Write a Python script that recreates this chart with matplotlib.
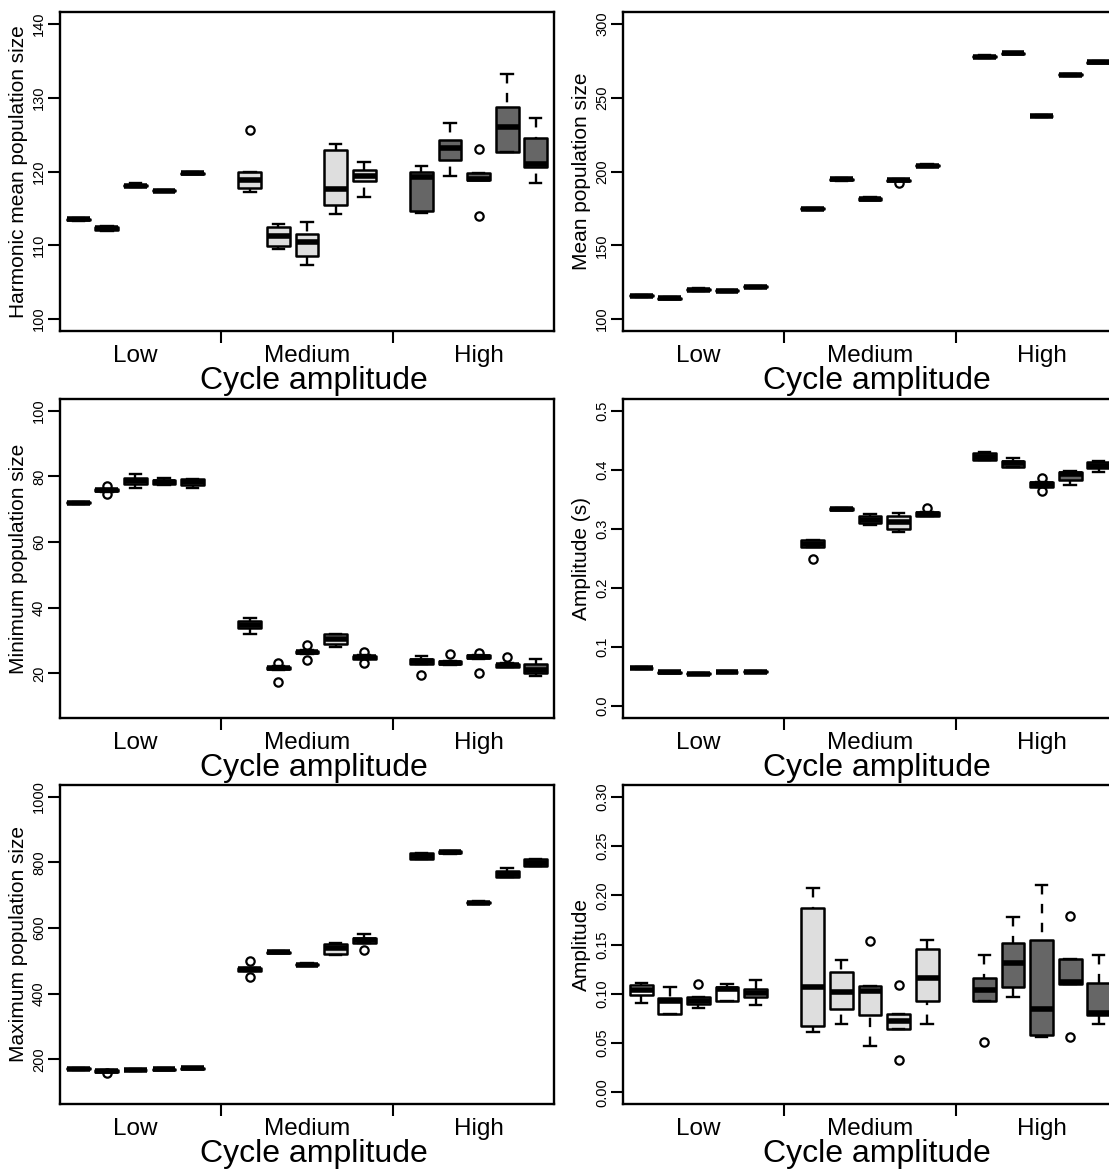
import matplotlib
matplotlib.use("Agg")
import matplotlib.pyplot as plt

plt.rcParams['font.family'] = ['Liberation Sans', 'DejaVu Sans']

# 15 boxes per panel: 5 Low, 5 Medium, 5 High
# each row: (whisker low, q1, median, q3, whisker high)
group_names = ['Low', 'Medium', 'High']

harm_box = [
    (113.3, 113.4, 113.5, 113.6, 113.7), (112.0, 112.1, 112.3, 112.5, 112.6),
    (117.9, 118.0, 118.05, 118.15, 118.4), (117.3, 117.35, 117.4, 117.45, 117.5),
    (119.6, 119.65, 119.75, 119.85, 119.9),
    (117.2, 117.8, 118.9, 119.9, 119.9), (109.5, 109.9, 111.3, 112.5, 112.85),
    (107.4, 108.5, 110.5, 111.6, 113.1), (114.3, 115.5, 117.6, 122.9, 123.7),
    (116.6, 118.7, 119.4, 120.2, 121.3),
    (114.4, 114.7, 119.3, 120.0, 120.7), (119.4, 121.6, 123.2, 124.2, 126.6),
    (118.8, 118.8, 118.96, 119.8, 119.8), (122.6, 122.6, 126.0, 128.8, 133.2),
    (118.5, 120.6, 121.0, 124.6, 127.3),
]
harm_out = {5: [125.6], 12: [123.0, 114.0]}

mean_box = [
    (115.2, 115.5, 115.8, 116.1, 116.4), (113.6, 113.9, 114.2, 114.5, 114.8),
    (119.0, 119.5, 119.9, 120.3, 121.0), (118.7, 118.9, 119.2, 119.5, 119.7),
    (121.4, 121.7, 122.0, 122.3, 122.6),
    (174.2, 174.5, 174.9, 175.3, 175.6), (193.8, 194.4, 194.8, 195.2, 195.6),
    (180.6, 181.0, 181.4, 181.8, 182.5), (193.4, 193.8, 194.1, 194.4, 194.8),
    (203.2, 203.5, 203.8, 204.2, 205.0),
    (277.0, 277.4, 277.8, 278.3, 278.8), (279.4, 279.6, 279.9, 280.2, 280.5),
    (237.0, 237.3, 237.6, 237.9, 238.2), (264.8, 265.1, 265.4, 265.7, 266.0),
    (273.4, 273.7, 274.0, 274.3, 274.6),
]
mean_out = {8: [192.0]}

min_box = [
    (71.7, 71.8, 72.0, 72.2, 72.3), (75.4, 75.6, 75.9, 76.1, 76.3),
    (76.6, 77.55, 78.6, 79.4, 80.7), (77.3, 77.6, 78.4, 79.0, 79.4),
    (76.5, 77.3, 78.3, 79.1, 79.1),
    (31.9, 33.7, 34.7, 36.0, 36.8), (21.0, 21.2, 21.6, 22.0, 22.2),
    (26.0, 26.2, 26.6, 26.9, 27.1), (28.0, 28.9, 30.4, 31.9, 31.9),
    (24.3, 24.5, 24.9, 25.3, 25.5),
    (22.8, 22.8, 23.7, 24.5, 25.3), (22.7, 22.8, 23.3, 23.8, 23.9),
    (24.5, 24.6, 25.1, 25.6, 25.7), (21.8, 22.0, 22.4, 23.0, 23.1),
    (19.2, 20.0, 21.1, 23.0, 24.5),
]
min_out = {1: [77.0, 74.7], 6: [23.3, 17.4], 7: [28.6, 24.1], 9: [26.6, 23.3],
           10: [19.5], 11: [25.8], 12: [26.3, 20.0], 13: [25.1]}

amps_box = [
    (0.0635, 0.064, 0.0646, 0.0652, 0.0657), (0.0563, 0.0568, 0.0573, 0.0578, 0.0583),
    (0.054, 0.0545, 0.055, 0.0555, 0.056), (0.0568, 0.0573, 0.0578, 0.0583, 0.0588),
    (0.0574, 0.0579, 0.0584, 0.0589, 0.0594),
    (0.2698, 0.2698, 0.2749, 0.2806, 0.2806), (0.3315, 0.332, 0.3339, 0.3355, 0.336),
    (0.3061, 0.310, 0.3158, 0.3214, 0.3248), (0.2948, 0.3005, 0.3118, 0.3214, 0.327),
    (0.322, 0.3225, 0.3254, 0.328, 0.3288),
    (0.416, 0.416, 0.4223, 0.429, 0.4295), (0.405, 0.4055, 0.411, 0.4155, 0.4206),
    (0.3713, 0.3713, 0.3753, 0.3787, 0.3787), (0.3742, 0.3827, 0.3929, 0.3968, 0.3975),
    (0.3968, 0.4025, 0.4065, 0.4138, 0.415),
]
amps_out = {5: [0.25], 9: [0.3356], 12: [0.3866, 0.364]}

max_box = [
    (168, 170, 171.7, 173, 175), (161, 162.5, 164.6, 166.5, 168),
    (165.5, 166.5, 167.7, 169, 170), (166.5, 168, 169.7, 171, 172.5),
    (170.5, 171.5, 172.8, 174, 175),
    (468.5, 468.5, 474.6, 479.7, 479.7), (523, 524, 526.4, 528.5, 530),
    (485, 486.5, 488.8, 491, 493), (519, 520.3, 538, 552.8, 554.9),
    (555, 555, 563, 571, 583.3),
    (809, 809, 819, 829, 829), (826, 828, 831, 834, 836),
    (673, 675, 677.8, 680.5, 683), (756, 756, 764, 774, 782.5),
    (788, 790, 798.8, 811, 811),
]
max_out = {1: [158.5], 5: [499, 451], 9: [532.5]}

amp_box = [
    (0.091, 0.0985, 0.1036, 0.1087, 0.1114), (0.0791, 0.0791, 0.0931, 0.0958, 0.1067),
    (0.0859, 0.0897, 0.0927, 0.0968, 0.0968), (0.0927, 0.0927, 0.1053, 0.107, 0.1094),
    (0.0883, 0.0965, 0.1006, 0.1053, 0.1141),
    (0.0611, 0.0676, 0.1067, 0.1875, 0.2072), (0.0696, 0.0849, 0.1019, 0.1216, 0.1342),
    (0.0469, 0.0788, 0.1026, 0.1077, 0.1077), (0.0642, 0.0642, 0.0727, 0.0791, 0.0791),
    (0.0693, 0.0931, 0.1158, 0.1457, 0.1546),
    (0.0924, 0.0924, 0.1036, 0.1155, 0.1393), (0.0968, 0.107, 0.1315, 0.1512, 0.1784),
    (0.056, 0.0584, 0.0849, 0.1542, 0.2106), (0.1094, 0.1094, 0.1121, 0.1352, 0.1352),
    (0.0696, 0.0781, 0.0805, 0.1111, 0.1393),
]
amp_out = {2: [0.1097], 7: [0.1532], 8: [0.1087, 0.0322], 10: [0.0509],
           13: [0.1794, 0.056]}

panels = [
    (harm_box, harm_out, (100, 140), [100, 110, 120, 130, 140], '{:.0f}', 'Harmonic mean population size'),
    (mean_box, mean_out, (100, 300), [100, 150, 200, 250, 300], '{:.0f}', 'Mean population size'),
    (min_box, min_out, (10, 100), [20, 40, 60, 80, 100], '{:.0f}', 'Minimum population size'),
    (amps_box, amps_out, (0, 0.5), [0, 0.1, 0.2, 0.3, 0.4, 0.5], '{:.1f}', 'Amplitude (s)'),
    (max_box, max_out, (100, 1000), [200, 400, 600, 800, 1000], '{:.0f}', 'Maximum population size'),
    (amp_box, amp_out, (0, 0.3), [0, 0.05, 0.10, 0.15, 0.20, 0.25, 0.30], '{:.2f}', 'Amplitude'),
]

fills = ['white'] * 5 + ['#dedede'] * 5 + ['#666666'] * 5
positions = [g * 6 + i + 1 for g in range(3) for i in range(5)]

W, H = 1109, 1171
fig = plt.figure(figsize=(W / 100, H / 100), dpi=100)

lefts = [60, 623]
tops = [12, 399, 785]
ax_w, ax_h = 494, 319

for k, (rows, outs, ylim, yticks, fmt, ylabel) in enumerate(panels):
    r, c = divmod(k, 2)
    ax = fig.add_axes([lefts[c] / W, 1 - (tops[r] + ax_h) / H, ax_w / W, ax_h / H])

    stats = []
    for i, (lo, q1, med, q3, hi) in enumerate(rows):
        stats.append(dict(whislo=lo, q1=q1, med=med, q3=q3, whishi=hi,
                          fliers=outs.get(i, [])))

    bp = ax.bxp(stats, positions=positions, widths=0.8, patch_artist=True,
                boxprops=dict(linewidth=1.8, edgecolor='black', joinstyle='round'),
                medianprops=dict(color='black', linewidth=4, solid_capstyle='butt'),
                whiskerprops=dict(color='black', linewidth=1.7, linestyle=(0, (4, 4))),
                capprops=dict(color='black', linewidth=1.7),
                flierprops=dict(marker='o', markerfacecolor='none', markeredgecolor='black',
                                markersize=6, markeredgewidth=1.6))
    for patch, col in zip(bp['boxes'], fills):
        patch.set_facecolor(col)
    # R draws whiskers from the staple towards the box
    for wl in bp['whiskers']:
        x, y = wl.get_data()
        wl.set_data(x[::-1], y[::-1])

    pad = (ylim[1] - ylim[0]) * 0.04
    ax.set_ylim(ylim[0] - pad, ylim[1] + pad)
    ax.set_xlim(0.36, 17.64)
    ax.set_yticks(yticks)
    ax.set_yticklabels([fmt.format(v) for v in yticks], rotation=90, va='center')
    ax.set_xticks([6, 12])
    ax.set_xticklabels(['', ''])
    ax.tick_params(axis='both', length=8.5, width=1.5, labelsize=10.5, pad=1.5)

    for sp in ax.spines.values():
        sp.set_linewidth(1.7)

    for g, name in enumerate(group_names):
        ax.text(g * 6 + 3, -31 / ax_h, name, transform=ax.get_xaxis_transform(),
                ha='center', va='baseline', fontsize=17.5)
    ax.text(0.5 + 7 / ax_w, -58 / ax_h, 'Cycle amplitude', transform=ax.transAxes,
            ha='center', va='baseline', fontsize=23)
    ax.text(-41.5 / ax_w, 0.5, ylabel, transform=ax.transAxes, rotation=90,
            ha='center', va='center', fontsize=15)

fig.savefig('out.png', dpi=100)
